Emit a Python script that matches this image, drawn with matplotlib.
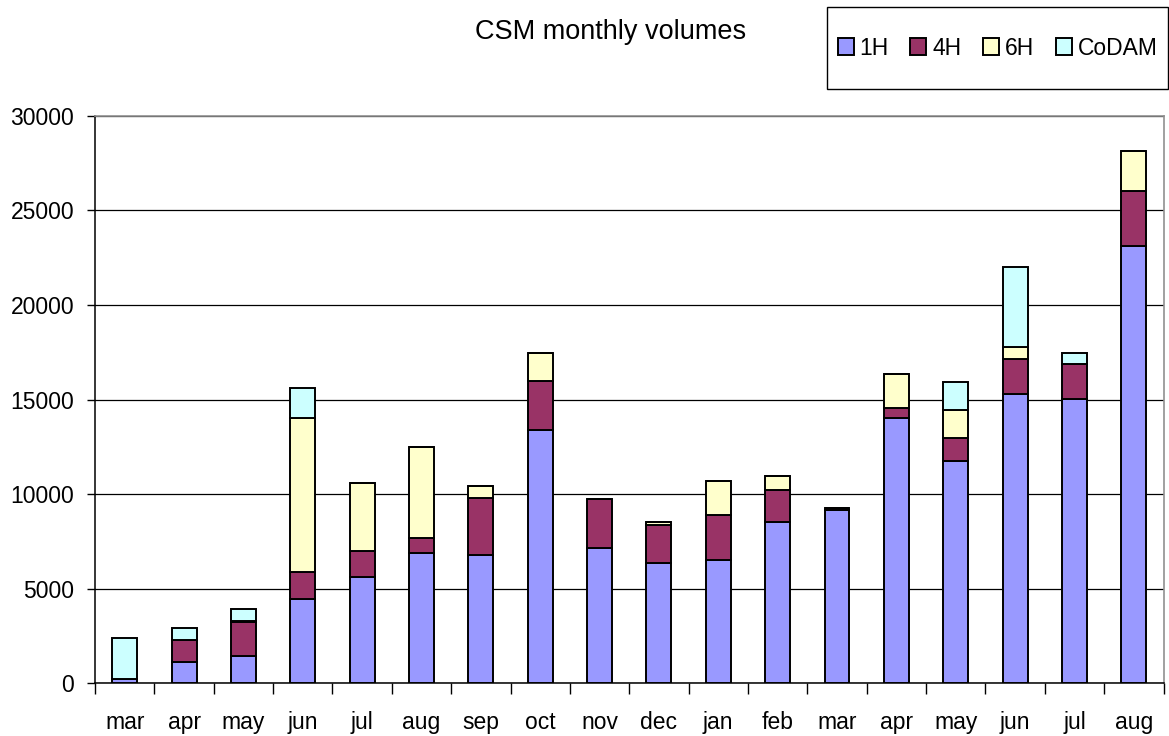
import matplotlib
matplotlib.use("Agg")
import matplotlib.pyplot as plt
from matplotlib.patches import Rectangle
import numpy as np

plt.rcParams['font.family'] = ['Liberation Sans', 'DejaVu Sans']

months = ["mar", "apr", "may", "jun", "jul", "aug", "sep", "oct", "nov",
          "dec", "jan", "feb", "mar", "apr", "may", "jun", "jul", "aug"]
vol_1h = [200, 1100, 1450, 4450, 5620, 6870, 6780, 13410, 7120,
          6360, 6520, 8520, 9180, 14030, 11740, 15290, 15020, 23100]
vol_4h = [0, 1200, 1800, 1430, 1380, 780, 3010, 2580, 2620,
          2000, 2370, 1710, 100, 500, 1200, 1860, 1860, 2920]
vol_6h = [0, 0, 50, 8130, 3600, 4820, 630, 1450, 0,
          140, 1800, 720, 0, 1830, 1490, 650, 0, 2120]
vol_codam = [2200, 620, 640, 1590, 0, 0, 0, 0, 0,
             0, 0, 0, 0, 0, 1520, 4190, 590, 0]

series = [("1H", vol_1h, "#9999FF"),
          ("4H", vol_4h, "#993366"),
          ("6H", vol_6h, "#FFFFCC"),
          ("CoDAM", vol_codam, "#CCFFFF")]

fig = plt.figure(figsize=(11.69, 7.36), dpi=100)
ax = fig.add_axes([0.0813, 0.0720, 0.9140, 0.7704])

x = np.arange(len(months))
bottom = np.zeros(len(months))
handles = []
for name, vals, col in series:
    vals = np.array(vals, dtype=float)
    b = ax.bar(x, vals, width=0.42, bottom=bottom, color=col,
               edgecolor="black", linewidth=1.4, label=name, zorder=3)
    handles.append(b)
    bottom += vals

ax.set_xlim(-0.5, len(months) - 0.5)
ax.set_ylim(0, 30000)
ax.set_yticks(np.arange(0, 30001, 5000))
ax.yaxis.grid(True, color="black", linewidth=0.9, zorder=0)
ax.tick_params(axis="y", labelsize=16.5, length=6, width=1, pad=9)

# labels at centres, tick marks between categories
ax.set_xticks(x)
ax.set_xticklabels(months)
ax.set_xticks(np.arange(-0.5, len(months)), minor=True)
ax.tick_params(axis="x", which="major", length=0, labelsize=16.5, pad=20)
ax.tick_params(axis="x", which="minor", length=8, width=1)

for s in ["top", "right"]:
    ax.spines[s].set_color("#909090")
    ax.spines[s].set_linewidth(1.2)
ax.spines["left"].set_linewidth(1.1)
ax.spines["bottom"].set_linewidth(1.1)

fig.text(0.522, 1 - 32 / 736, "CSM monthly volumes", fontsize=19.5,
         ha="center", va="center")

# legend box
fig.patches.append(Rectangle((0.7075, 0.879), 0.2915, 0.1115,
                             transform=fig.transFigure, fill=False,
                             edgecolor="black", linewidth=1))
fig.legend(handles=handles, labels=[s[0] for s in series], ncol=4,
           loc="center", bbox_to_anchor=(0.7075 + 0.2915 / 2, 0.879 + 0.1115 / 2),
           frameon=False, fontsize=16.5, handlelength=0.7, handleheight=0.7,
           handletextpad=0.25, columnspacing=0.95, borderpad=0)

fig.savefig("out.png", dpi=100)
